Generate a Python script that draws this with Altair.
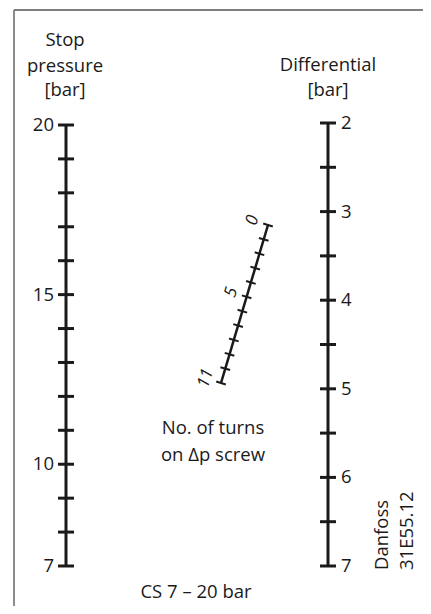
import altair as alt
import pandas as pd

# ---- data ----
stop_ticks = list(range(7, 21))            # Stop pressure [bar], tick every 1 bar
stop_labels = [20, 15, 10, 7]
diff_ticks = [2 + 0.5 * i for i in range(11)]  # Differential [bar], tick every 0.5 bar
diff_labels = [2, 3, 4, 5, 6, 7]
turn_ticks = list(range(0, 12))             # No. of turns on dp screw
turn_labels = [0, 5, 11]

FONT = "Open Sans"
FS = 18.5
INK = "#1a1a1a"

# scales (pixel ranges inside the plot area)
p_scale = alt.Scale(domain=[7, 20], range=[558, 117])
d_scale = alt.Scale(domain=[2, 7], range=[115, 558])
tx_scale = alt.Scale(domain=[0, 11], range=[260, 213])
ty_scale = alt.Scale(domain=[0, 11], range=[217, 375])

X_LEFT = 58
X_RIGHT = 320

df_p = pd.DataFrame({"p": stop_ticks})
df_pl = pd.DataFrame({"p": stop_labels, "lab": [str(v) for v in stop_labels]})
df_d = pd.DataFrame({"d": diff_ticks})
df_dl = pd.DataFrame({"d": diff_labels, "lab": [str(v) for v in diff_labels]})
df_t = pd.DataFrame({"t": turn_ticks})
df_tl = pd.DataFrame({"t": turn_labels, "lab": [str(v) for v in turn_labels]})

layers = []

# frame (top and left edges)
layers.append(
    alt.Chart(pd.DataFrame({"a": [0]})).mark_rule(color="#555", strokeWidth=1.5).encode(
        x=alt.value(6), x2=alt.value(430), y=alt.value(2)
    )
)
layers.append(
    alt.Chart(pd.DataFrame({"a": [0]})).mark_rule(color="#666", strokeWidth=1.5).encode(
        x=alt.value(6), y=alt.value(2), y2=alt.value(620)
    )
)

# stop pressure scale
layers.append(
    alt.Chart(df_p).mark_rule(color=INK, strokeWidth=3).encode(
        x=alt.value(X_LEFT),
        y=alt.Y("min(p):Q", scale=p_scale, axis=None),
        y2="max(p):Q",
    )
)
layers.append(
    alt.Chart(df_p).mark_point(shape="stroke", size=256, strokeWidth=3, color=INK, opacity=1, filled=False).encode(
        x=alt.value(X_LEFT),
        y=alt.Y("p:Q", scale=p_scale, axis=None),
    )
)
layers.append(
    alt.Chart(df_pl).mark_text(font=FONT, fontSize=FS, align="right", baseline="middle", color=INK).encode(
        x=alt.value(X_LEFT - 12),
        y=alt.Y("p:Q", scale=p_scale, axis=None),
        text="lab:N",
    )
)

# differential scale
layers.append(
    alt.Chart(df_d).mark_rule(color=INK, strokeWidth=3).encode(
        x=alt.value(X_RIGHT),
        y=alt.Y("min(d):Q", scale=d_scale, axis=None),
        y2="max(d):Q",
    )
)
layers.append(
    alt.Chart(df_d).mark_point(shape="stroke", size=256, strokeWidth=3, color=INK, opacity=1, filled=False).encode(
        x=alt.value(X_RIGHT),
        y=alt.Y("d:Q", scale=d_scale, axis=None),
    )
)
layers.append(
    alt.Chart(df_dl).mark_text(font=FONT, fontSize=FS, align="left", baseline="middle", color=INK).encode(
        x=alt.value(X_RIGHT + 13),
        y=alt.Y("d:Q", scale=d_scale, axis=None),
        text="lab:N",
    )
)

# turns scale (slanted)
layers.append(
    alt.Chart(df_t).mark_line(color=INK, strokeWidth=2.5).encode(
        x=alt.X("t:Q", scale=tx_scale, axis=None),
        y=alt.Y("t:Q", scale=ty_scale, axis=None),
        order="t:Q",
    )
)
layers.append(
    alt.Chart(df_t).mark_point(shape="stroke", size=100, strokeWidth=2, angle=16.6, color=INK, opacity=1, filled=False).encode(
        x=alt.X("t:Q", scale=tx_scale, axis=None),
        y=alt.Y("t:Q", scale=ty_scale, axis=None),
    )
)
layers.append(
    alt.Chart(df_tl).mark_text(font=FONT, fontSize=17, fontStyle="italic", align="center", baseline="middle",
                               angle=286.6, dy=-16, color=INK).encode(
        x=alt.X("t:Q", scale=tx_scale, axis=None),
        y=alt.Y("t:Q", scale=ty_scale, axis=None),
        text="lab:N",
    )
)


def label(txt, x, y, align="center", angle=0, size=FS):
    kw = dict(font=FONT, fontSize=size, align=align, baseline="middle", color=INK)
    if angle:
        kw["angle"] = angle
    return alt.Chart(pd.DataFrame({"s": [txt]})).mark_text(**kw).encode(
        x=alt.value(x), y=alt.value(y), text="s:N"
    )


layers += [
    label("Stop", 57, 32),
    label("pressure", 57, 58),
    label("[bar]", 57, 82),
    label("Differential", 320, 57),
    label("[bar]", 320, 82),
    label("No. of turns", 205, 420),
    label("on Δp screw", 205, 447),
    label("CS 7 – 20 bar", 188, 584),
    label("Danfoss", 374, 562, align="left", angle=270),
    label("31E55.12", 399, 562, align="left", angle=270),
]

chart = (
    alt.layer(*layers)
    .resolve_scale(x="independent", y="independent")
    .properties(width=415, height=598, autosize=alt.AutoSizeParams(type="none"), padding=0)
    .configure_view(stroke=None)
)

chart.save("out.html", embed_options={"renderer": "svg", "actions": False})
